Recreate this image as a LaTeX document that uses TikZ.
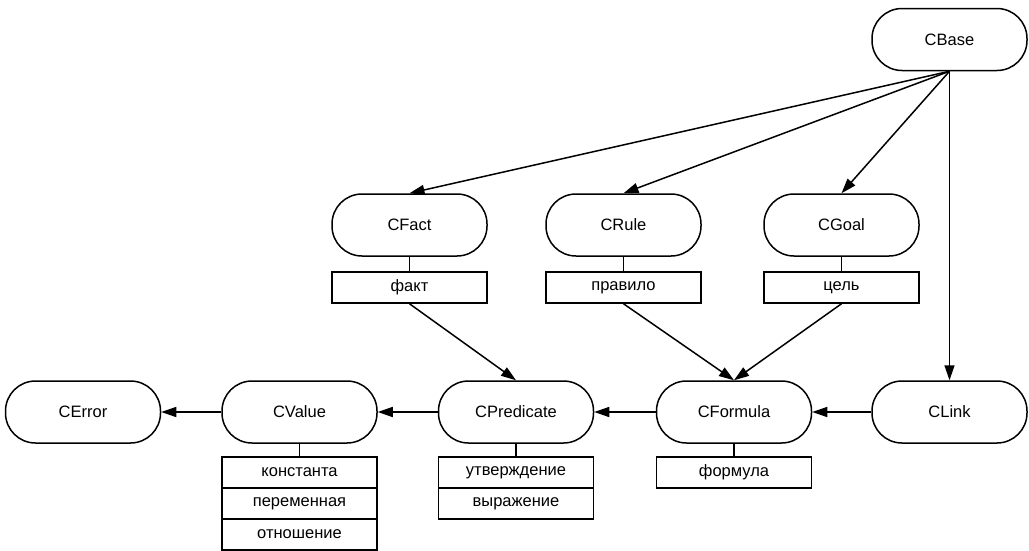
\documentclass[tikz,border=0pt]{standalone}
\usepackage{fontspec}
\setmainfont{Liberation Sans}
\usetikzlibrary{arrows.meta}
\tikzset{
    cls/.style={draw, line width=1.5pt, rounded corners=30pt, minimum width=155pt, minimum height=62pt, inner sep=0pt},
    attr/.style={draw, line width=1.5pt, minimum width=155pt, minimum height=31pt, inner sep=0pt},
    inh/.style={line width=1.5pt, -{Triangle[length=15pt,width=10pt]}},
    tie/.style={line width=1.5pt}
}
\begin{document}
\begin{tikzpicture}[x=1pt, y=-1pt, font=\fontsize{16.5}{19}\selectfont]
    \useasboundingbox (0, 0) rectangle (1029, 550);
    %классы
    \node[cls] (base) at (949.5, 39.5) {CBase};
    \node[cls] (fact) at (409.5, 225) {CFact};
    \node[cls] (rule) at (623.5, 225) {CRule};
    \node[cls] (goal) at (841.5, 225) {CGoal};
    \node[cls] (error) at (83, 412) {CError};
    \node[cls] (value) at (299.5, 412) {CValue};
    \node[cls] (pred) at (516, 412) {CPredicate};
    \node[cls] (formula) at (734, 412) {CFormula};
    \node[cls] (link) at (949.5, 412) {CLink};
    %атрибуты
    \node[attr] (factA) at (409.5, 287.5) {факт};
    \node[attr] (ruleA) at (623.5, 287.5) {правило};
    \node[attr] (goalA) at (841.5, 287.5) {цель};
    \node[attr] (valueA) at (299.5, 472.5) {константа};
    \node[attr] (valueB) at (299.5, 503.5) {переменная};
    \node[attr] (valueC) at (299.5, 534.5) {отношение};
    \node[attr] (predA) at (516, 472.5) {утверждение};
    \node[attr] (predB) at (516, 503.5) {выражение};
    \node[attr] (formulaA) at (734, 472.5) {формула};
    \foreach \c/\a in {fact/factA, rule/ruleA, goal/goalA, value/valueA, pred/predA, formula/formulaA}
        \draw[tie] (\c) -- (\a);
    %стрелки
    \foreach \t in {fact, rule, goal, link}
        \draw[inh] (base.south) -- (\t.north);
    \draw[inh] (factA.south) -- (pred.north);
    \draw[inh] (ruleA.south) -- (formula.north);
    \draw[inh] (goalA.south) -- (formula.north);
    \draw[inh] (link) -- (formula);
    \draw[inh] (formula) -- (pred);
    \draw[inh] (pred) -- (value);
    \draw[inh] (value) -- (error);
\end{tikzpicture}
\end{document}
